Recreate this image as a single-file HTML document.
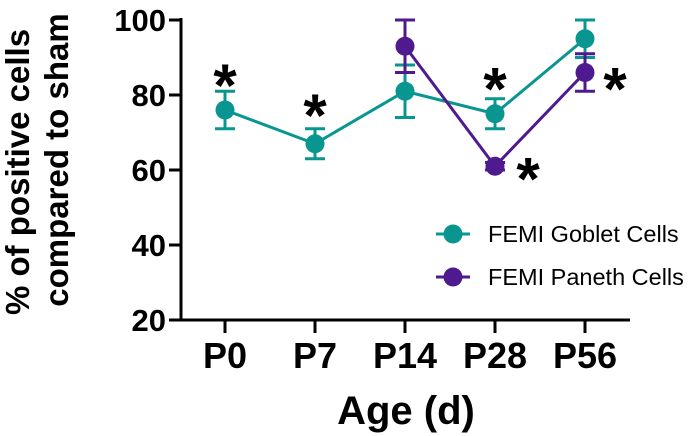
<!DOCTYPE html>
<html><head><meta charset="utf-8"><style>
body{margin:0;background:#fff;}
svg{display:block;font-family:"Liberation Sans",Arial,sans-serif;}
</style></head><body>
<svg id="chart" width="688" height="436" viewBox="0 0 688 436" xmlns="http://www.w3.org/2000/svg">
<g id="axes"></g>
<g id="marks"></g>
<text transform="translate(29,172) rotate(-90)" text-anchor="middle" font-size="33" font-weight="bold">% of positive cells</text>
<text transform="translate(68,160) rotate(-90)" text-anchor="middle" font-size="33" font-weight="bold">compared to sham</text>
<text x="406" y="424" text-anchor="middle" font-size="40" font-weight="bold">Age (d)</text>
<g>
<g><line x1="436" y1="234" x2="470" y2="234" stroke="#0a9690" stroke-width="3"/><circle cx="453" cy="234" r="9.5" fill="#0a9690"/><text x="488" y="242" font-size="23.5">FEMI Goblet Cells</text></g>
<g><line x1="436" y1="277" x2="470" y2="277" stroke="#4e1a8e" stroke-width="3"/><circle cx="453" cy="277" r="9.5" fill="#4e1a8e"/><text x="488" y="285" font-size="23.5">FEMI Paneth Cells</text></g>
</g>
</svg>
<script>
const categories=["P0","P7","P14","P28","P56"];
const yTicks=[20,40,60,80,100];
const gobletMean=[76,67,81,75,95];
const gobletErr=[5,4,7,4,5];
const panethMean=[null,null,93,61,86];
const panethErr=[null,null,7,1,5];
const stars=[{i:0,v:87},{i:1,v:79},{i:3,v:86},{i:3,v:62,dx:33},{i:4,v:86,dx:30}];
const NS="http://www.w3.org/2000/svg";
const X=i=>225+i*90;
const Y=v=>20+(100-v)*3.75;
function mk(p,t,a){const e=document.createElementNS(NS,t);for(const k in a)e.setAttribute(k,a[k]);p.appendChild(e);return e;}
const ax=document.getElementById('axes'),mg=document.getElementById('marks');
let e=mk(ax,'line',{x1:181,y1:18,x2:181,y2:321,stroke:'#000','stroke-width':3});

e=mk(ax,'line',{x1:180,y1:320,x2:630,y2:320,stroke:'#000','stroke-width':3});

yTicks.forEach(v=>{
 e=mk(ax,'line',{x1:169,y1:Y(v),x2:181,y2:Y(v),stroke:'#000','stroke-width':3});
 
 e=mk(ax,'text',{x:166,y:Y(v)+11,'text-anchor':'end','font-size':31,'font-weight':'bold'});e.textContent=v;
 
});
categories.forEach((c,i)=>{
 e=mk(ax,'line',{x1:X(i),y1:320,x2:X(i),y2:333,stroke:'#000','stroke-width':3});
 
 e=mk(ax,'text',{x:X(i),y:368,'text-anchor':'middle','font-size':36,'font-weight':'bold'});e.textContent=c;
 
});
function series(m,er,col,name){
 const pts=[];m.forEach((v,i)=>{if(v!=null)pts.push([X(i),Y(v),i]);});
 e=mk(mg,'polyline',{points:pts.map(p=>p[0]+','+p[1]).join(' '),fill:'none',stroke:col,'stroke-width':3});
 
 pts.forEach(p=>{const v=m[p[2]],d=er[p[2]];
  const g=mk(mg,'g',{});
  
  mk(g,'line',{x1:p[0],y1:Y(v+d),x2:p[0],y2:Y(v-d),stroke:col,'stroke-width':3});
  mk(g,'line',{x1:p[0]-10,y1:Y(v+d),x2:p[0]+10,y2:Y(v+d),stroke:col,'stroke-width':3});
  mk(g,'line',{x1:p[0]-10,y1:Y(v-d),x2:p[0]+10,y2:Y(v-d),stroke:col,'stroke-width':3});
  mk(g,'circle',{cx:p[0],cy:p[1],r:9.5,fill:col});
 });
}
series(gobletMean,gobletErr,'#0a9690','goblet');
series(panethMean,panethErr,'#4e1a8e','paneth');
stars.forEach(s=>{
 e=mk(mg,'text',{x:X(s.i)+(s.dx||0),y:Y(s.v)+37,'text-anchor':'middle','font-size':60,'font-weight':'bold'});e.textContent='*';
 
});
</script>
</body></html>
